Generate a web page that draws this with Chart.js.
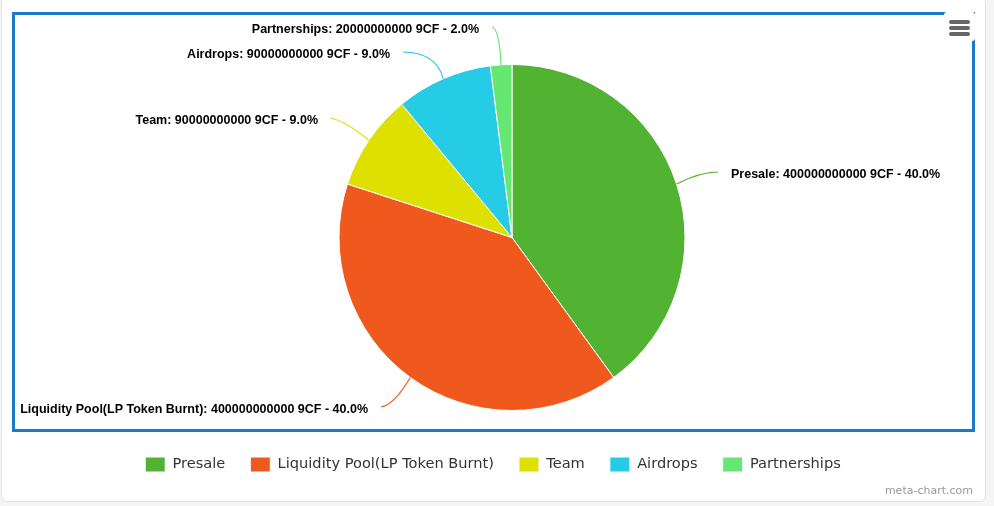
<!DOCTYPE html>
<html>
<head>
<meta charset="utf-8">
<title>Token distribution</title>
<script src="https://cdn.jsdelivr.net/npm/chart.js@4"></script>
<style>
    html, body { margin: 0; padding: 0; background: #f5f5f5; overflow: hidden; }
    #card { position: absolute; left: 1px; top: -3px; width: 983px; height: 503px; background: #fff; border: 1px solid #e2e2e2; border-radius: 6px; }
    #pie { position: absolute; left: 0; top: 0; }
</style>
</head>
<body>
<div id="card"></div>
<canvas id="pie" width="994" height="506"></canvas>
<script>
const categories = ["Presale", "Liquidity Pool(LP Token Burnt)", "Team", "Airdrops", "Partnerships"];
const tokens = [400000000000, 400000000000, 90000000000, 90000000000, 20000000000];
const tokenUnit = "9CF";
const sliceColors = ["#52b332", "#f0591d", "#dee000", "#26cbe6", "#66e673"];

// where each outside label ends up: end of connector, then control point of the curve
const labelEnds = [[718, 172], [381, 407], [331, 118], [403, 52], [492, 27]];
const curveCtrl = [[700, 172], [394, 405], [347, 122], [436, 52], [499, 28]];

const total = tokens.reduce((a, b) => a + b, 0);

// frame and menu button behind / over the pie
const framePlugin = {
    id: "frame",
    beforeDraw(chart) {
        const ctx = chart.ctx;
        ctx.save();
        ctx.strokeStyle = "#1b7acb";
        ctx.lineWidth = 3;
        ctx.strokeRect(13.5, 13.5, 960, 417);
        // menu button
        ctx.fillStyle = "#fff";
        ctx.beginPath();
        ctx.roundRect(944, 12, 31, 29, 3);
        ctx.fill();
        ctx.strokeStyle = "#666";
        ctx.lineWidth = 4;
        ctx.lineCap = "round";
        [22, 28, 34].forEach((y) => {
            ctx.beginPath();
            ctx.moveTo(951, y);
            ctx.lineTo(968, y);
            ctx.stroke();
        });
        // credit
        ctx.fillStyle = "#999";
        ctx.font = "11px 'DejaVu Sans'";
        ctx.textAlign = "right";
        ctx.textBaseline = "middle";
        ctx.fillText("meta-chart.com", 973, 491);
        ctx.restore();
    },
};

// connectors and outside labels
const labelPlugin = {
    id: "outsideLabels",
    afterDraw(chart) {
        const ctx = chart.ctx;
        const arcs = chart.getDatasetMeta(0).data;
        ctx.save();
        arcs.forEach((arc, i) => {
            const p = arc.getProps(["x", "y", "startAngle", "endAngle", "outerRadius"], true);
            const mid = (p.startAngle + p.endAngle) / 2;
            const sx = p.x + Math.cos(mid) * p.outerRadius;
            const sy = p.y + Math.sin(mid) * p.outerRadius;
            const [ex, ey] = labelEnds[i];
            ctx.strokeStyle = sliceColors[i];
            ctx.lineWidth = 1.2;
            ctx.beginPath();
            ctx.moveTo(sx, sy);
            ctx.quadraticCurveTo(curveCtrl[i][0], curveCtrl[i][1], ex, ey);
            ctx.stroke();

            const pct = (tokens[i] / total * 100).toFixed(1);
            const text = categories[i] + ": " + tokens[i] + " " + tokenUnit + " - " + pct + "%";
            const onRight = Math.cos(mid) > 0;
            ctx.fillStyle = "#000";
            ctx.font = "bold 12.5px 'Liberation Sans'";
            ctx.textBaseline = "middle";
            ctx.textAlign = onRight ? "left" : "right";
            ctx.fillText(text, ex + (onRight ? 13 : -13), ey + 2.5);
        });
        ctx.restore();
    },
};

// legend is centred on the card and sits lower than the layout would put it
const legendShift = {
    id: "legendShift",
    afterLayout(chart) {
        chart.legend.left -= 19;
        chart.legend.right -= 19;
        chart.legend.top += 21;
        chart.legend.bottom += 21;
    },
};

new Chart(document.getElementById("pie"), {
    type: "pie",
    data: {
        labels: categories,
        datasets: [
            {
                data: tokens,
                backgroundColor: sliceColors,
                borderColor: "#fff",
                borderWidth: 1,
            },
        ],
    },
    plugins: [framePlugin, labelPlugin, legendShift],
    options: {
        responsive: false,
        animation: false,
        layout: { padding: { top: 64, left: 30, right: 0, bottom: 45 } },
        plugins: {
            tooltip: { enabled: false },
            legend: {
                position: "bottom",
                labels: {
                    boxWidth: 20,
                    boxHeight: 15,
                    padding: 25,
                    color: "#333",
                    font: { family: "DejaVu Sans", size: 14.6 },
                },
            },
        },
    },
});
</script>
</body>
</html>
